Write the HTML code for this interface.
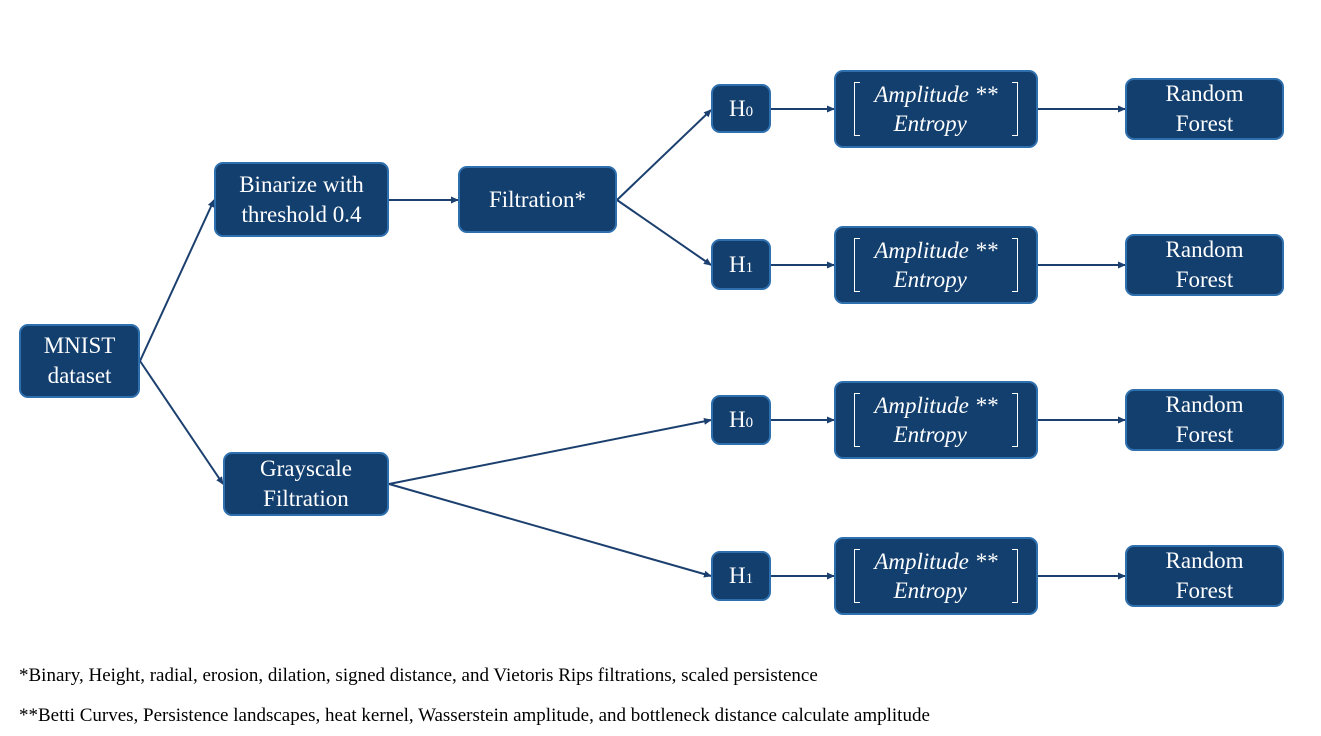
<!DOCTYPE html>
<html><head><style>
body{margin:0;width:1321px;height:736px;background:#fff;position:relative;overflow:hidden;font-family:"Liberation Serif",serif}
.b{position:absolute;box-sizing:border-box;background:#133f6e;border:2px solid #2e6fae;border-radius:9px;color:#fff;display:flex;align-items:center;justify-content:center;text-align:center;font-size:23px;line-height:30px}
.a{font-style:italic;font-size:23px;line-height:29px;position:relative;padding:0 24px}
.a:before,.a:after{content:"";position:absolute;top:2px;bottom:2px;width:5px;border:1.5px solid #fff}
.a:before{left:4px;border-right:none}
.a:after{right:4px;border-left:none}
.f{position:absolute;left:19px;font-size:19px;color:#000}
</style></head><body>
<svg width="1321" height="736" style="position:absolute;left:0;top:0">
<defs><marker id="m" markerWidth="8" markerHeight="8" refX="7" refY="4" orient="auto" markerUnits="userSpaceOnUse"><path d="M0,0.5 L8,4 L0,7.5z" fill="#1b3f6e"/></marker></defs>
<g stroke="#1b3f6e" stroke-width="2" fill="none" marker-end="url(#m)">
<line x1="140" y1="361" x2="214" y2="200"/>
<line x1="140" y1="361" x2="223" y2="484"/>
<line x1="389" y1="200" x2="458" y2="200"/>
<line x1="617" y1="200" x2="711" y2="110"/>
<line x1="617" y1="200" x2="711" y2="265"/>
<line x1="389" y1="484" x2="711" y2="420"/>
<line x1="389" y1="484" x2="711" y2="576"/>
<line x1="771" y1="109" x2="834" y2="109"/>
<line x1="771" y1="265" x2="834" y2="265"/>
<line x1="771" y1="420" x2="834" y2="420"/>
<line x1="771" y1="576" x2="834" y2="576"/>
<line x1="1038" y1="109" x2="1125" y2="109"/>
<line x1="1038" y1="265" x2="1125" y2="265"/>
<line x1="1038" y1="420" x2="1125" y2="420"/>
<line x1="1038" y1="576" x2="1125" y2="576"/>
</g></svg>
<div class="b" style="left:19px;top:324px;width:121px;height:74px">MNIST<br>dataset</div>
<div class="b" style="left:214px;top:162px;width:175px;height:75px">Binarize with<br>threshold 0.4</div>
<div class="b" style="left:458px;top:166px;width:159px;height:67px">Filtration*</div>
<div class="b" style="left:223px;top:452px;width:166px;height:64px">Grayscale<br>Filtration</div>
<div class="b" style="left:711px;top:84px;width:60px;height:49px">H<span style="font-size:15px;margin-top:6px">0</span></div>
<div class="b" style="left:711px;top:239px;width:60px;height:51px">H<span style="font-size:15px;margin-top:6px">1</span></div>
<div class="b" style="left:711px;top:395px;width:60px;height:50px">H<span style="font-size:15px;margin-top:6px">0</span></div>
<div class="b" style="left:711px;top:551px;width:60px;height:50px">H<span style="font-size:15px;margin-top:6px">1</span></div>
<div class="b" style="left:834px;top:70px;width:204px;height:78px"><div class="a">Amplitude **<br>Entropy&nbsp;&nbsp;</div></div>
<div class="b" style="left:834px;top:226px;width:204px;height:78px"><div class="a">Amplitude **<br>Entropy&nbsp;&nbsp;</div></div>
<div class="b" style="left:834px;top:381px;width:204px;height:78px"><div class="a">Amplitude **<br>Entropy&nbsp;&nbsp;</div></div>
<div class="b" style="left:834px;top:537px;width:204px;height:78px"><div class="a">Amplitude **<br>Entropy&nbsp;&nbsp;</div></div>
<div class="b" style="left:1125px;top:78px;width:159px;height:62px">Random<br>Forest</div>
<div class="b" style="left:1125px;top:234px;width:159px;height:62px">Random<br>Forest</div>
<div class="b" style="left:1125px;top:389px;width:159px;height:62px">Random<br>Forest</div>
<div class="b" style="left:1125px;top:545px;width:159px;height:62px">Random<br>Forest</div>
<div class="f" style="top:665px">*Binary, Height, radial, erosion, dilation, signed distance, and Vietoris Rips filtrations, scaled persistence</div>
<div class="f" style="top:705px">**Betti Curves, Persistence landscapes, heat kernel, Wasserstein amplitude, and bottleneck distance calculate amplitude</div>
</body></html>
